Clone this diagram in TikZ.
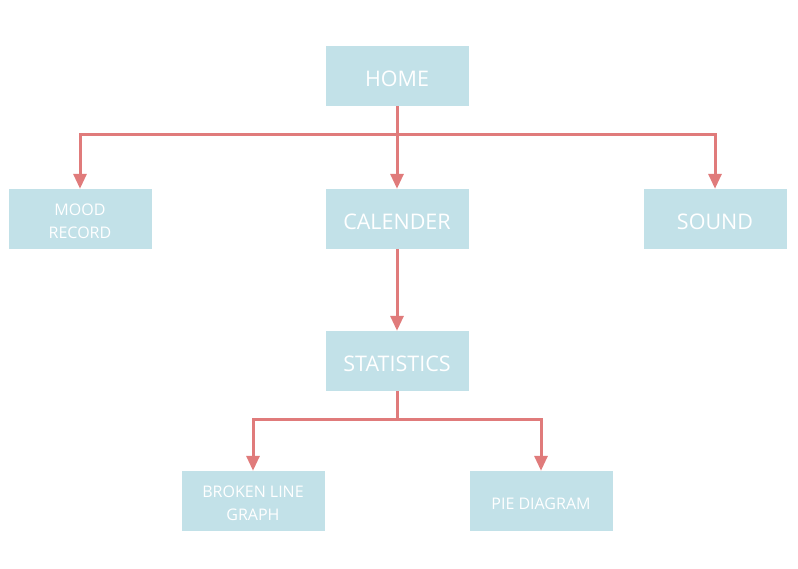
\documentclass[tikz,border=0pt]{standalone}
\usepackage{fontspec}
\setmainfont{Open Sans}
\usepackage{tikz}
\usetikzlibrary{positioning, arrows.meta}
\definecolor{boxblue}{HTML}{C2E1E8}
\definecolor{linkred}{HTML}{E07B7B}

\begin{document}
\begin{tikzpicture}[x=1pt, y=-1pt,
    box/.style={fill=boxblue, minimum width=143pt, minimum height=60pt,
        text=white, font=\fontsize{21.5}{25}\selectfont, align=center, inner sep=0pt,
        text height=21pt, text depth=0pt},
    smallbox/.style={box, font=\fontsize{16}{23}\selectfont, text height=17pt},
    twolines/.style={text height=39pt},
    link/.style={draw=linkred, line width=3pt,
        -{Triangle[length=15pt, width=13pt]}}]
    \useasboundingbox (0,0) rectangle (798,568);

    % Boxes
    \node[box] (home) at (397,76) {HOME};
    \node[smallbox, twolines] (mood) at (80,219) {MOOD\\RECORD};
    \node[box] (calender) at (397,219) {CALENDER};
    \node[box] (sound) at (715,219) {SOUND};
    \node[box] (stats) at (397,361) {STATISTICS};
    \node[smallbox, twolines] (broken) at (253,501) {BROKEN LINE\\GRAPH};
    \node[smallbox] (pie) at (541,501) {PIE DIAGRAM};

    % Links from home
    \draw[link] (home.south) -- ++(0,28) -| (mood.north);
    \draw[link] (home.south) -- ++(0,28) -| (sound.north);
    \draw[link] (home.south) -- (calender.north);

    % Links from calender and statistics
    \draw[link] (calender.south) -- (stats.north);
    \draw[link] (stats.south) -- ++(0,28) -| (broken.north);
    \draw[link] (stats.south) -- ++(0,28) -| (pie.north);
\end{tikzpicture}
\end{document}
